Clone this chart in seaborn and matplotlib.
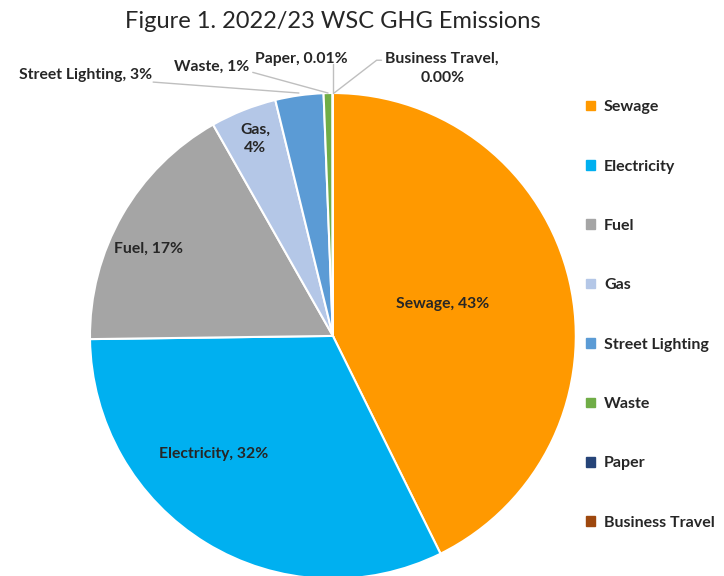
import matplotlib
matplotlib.use('Agg')
import matplotlib.pyplot as plt
import seaborn as sns
import numpy as np

categories = ['Sewage', 'Electricity', 'Fuel', 'Gas', 'Street Lighting', 'Waste', 'Paper', 'Business Travel']
emissions = [42.7, 32.1, 17.0, 4.4, 3.2, 0.6, 0.01, 0.002]
pct_labels = ['43%', '32%', '17%', '4%', '3%', '1%', '0.01%', '0.00%']
colors = ['#FF9900', '#00B0F0', '#A5A5A5', '#B4C7E7', '#5B9BD5', '#70AD47', '#264478', '#9E480E']

sns.set_style('white')
plt.rcParams['font.family'] = ['Lato', 'DejaVu Sans']

fig = plt.figure(figsize=(7.24, 5.76), dpi=100)
ax = fig.add_axes([0.1243, -0.0052, 0.671, 0.844])
wedges, _ = ax.pie(emissions, colors=colors, startangle=90, counterclock=False,
                   wedgeprops=dict(edgecolor='white', linewidth=1.5))
ax.set_xlim(-1, 1)
ax.set_ylim(-1, 1)

fs = 11.3
# inside labels at tuned spots
inside = {0: (0.45, 0.13), 1: (-0.49, -0.485), 2: (-0.76, 0.36), 3: (-0.32, 0.81)}
for i, (x, y) in inside.items():
    sep = ',\n' if categories[i] == 'Gas' else ', '
    ax.text(x, y, categories[i] + sep + pct_labels[i], ha='center', va='center',
            fontsize=fs, fontweight='bold', linespacing=1.4)

lc = '#BFBFBF'
# Street Lighting
ax.plot([-0.74, -0.14], [1.045, 1.0], color=lc, lw=1, clip_on=False)
ax.text(-0.745, 1.074, categories[4] + ', ' + pct_labels[4], ha='right', va='center',
        fontsize=fs, fontweight='bold')
# Waste
ax.plot([-0.33, -0.02], [1.085, 1.0], color=lc, lw=1, clip_on=False)
ax.text(-0.345, 1.107, categories[5] + ', ' + pct_labels[5], ha='right', va='center',
        fontsize=fs, fontweight='bold')
# Paper
ax.plot([0.0, 0.0], [1.0, 1.12], color=lc, lw=1, clip_on=False)
ax.text(-0.32, 1.14, categories[6] + ', ' + pct_labels[6], ha='left', va='center',
        fontsize=fs, fontweight='bold')
# Business Travel
ax.plot([0.005, 0.18, 0.2], [1.0, 1.135, 1.135], color=lc, lw=1, clip_on=False)
ax.text(0.45, 1.10, categories[7] + ',\n' + pct_labels[7], ha='center', va='center',
        fontsize=fs, fontweight='bold', linespacing=1.5)

fig.text(0.46, 0.963, 'Figure 1. 2022/23 WSC GHG Emissions', ha='center', va='center',
         fontsize=17)

handles = [plt.Rectangle((0, 0), 1, 1, color=c) for c in colors]
leg = fig.legend(handles, categories, loc='upper left', bbox_to_anchor=(0.790, 0.851),
                 frameon=False, handlelength=0.55, handleheight=0.55, handletextpad=0.55,
                 labelspacing=2.84, prop=dict(weight='bold', size=11.5))

fig.savefig('out.png', dpi=100)
